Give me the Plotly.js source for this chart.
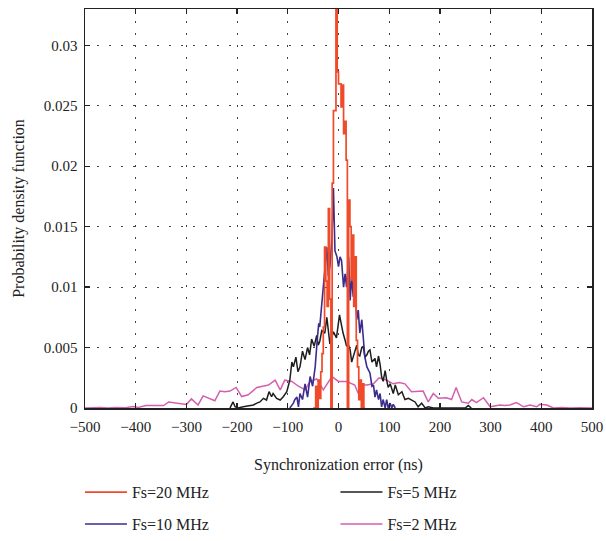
<!DOCTYPE html>
<html>
<head>
<meta charset="utf-8">
<script src="https://cdn.plot.ly/plotly-3.0.1.min.js"></script>
<style>html,body{margin:0;padding:0;background:#fff;}#chart{width:606px;height:541px;}</style>
</head>
<body>
<div id="chart"></div>
<script>
// Fs = 20 MHz
const redX = [-50,-47.5,-45,-42.5,-40,-37.5,-35,-32.5,-30,-27.5,-25,-22.5,-20,-17.5,-15,-12.5,-10,-7.5,-5,-2.5,0,2.5,5,7.5,10,12.5,15,17.5,20,22.5,25,27.5,30,32.5,35,37.5,40,42.5,45,47.5,50,52.5];
const redY = [0,0,0.0018,0,0.0023,0.0008,0.003,0.0045,0.0067,0.0133,0.0105,0.0084,0.0165,0.009,0,0.0186,0.0246,0.0246,0.036,0.0278,0.0268,0.0268,0.0249,0.0267,0.0227,0.0237,0.0205,0,0.0172,0.015,0.0106,0.0143,0.0084,0.0125,0.0056,0.0034,0.0007,0.0023,0,0.002,0,0];
// Fs = 10 MHz
const blueX = [-96,-89,-86,-82,-79,-76,-71,-66,-61,-56,-51,-46,-42,-39,-37,-33,-27,-23,-20,-17,-13,-10,-7,-3,0,3,6,10,13,16,20,23,26,29,33,36,39,42,46,49,52,56,62,66,69,72,75,79,82,85,88,92,95,98,102,105,108,112];
const blueY = [0,0.0004,0.0007,0.0009,0.0001,0.0012,0.0007,0.002,0.0009,0.0026,0.0018,0.0034,0.0056,0.007,0.0067,0.0087,0.0117,0.0133,0.0109,0.0117,0.0139,0.0182,0.013,0.0125,0.0117,0.0125,0.0122,0.01,0.0111,0.01,0.0125,0.0089,0.0109,0.0092,0.0098,0.0073,0.0081,0.0062,0.0073,0.0056,0.0042,0.0034,0.0029,0.0018,0.0019,0.0009,0.0015,0.0007,0.0012,0.0001,0.0007,0,0.0007,0,0.0004,0,0.0003,0];
// Fs = 5 MHz
const blackX = [-214,-208,-204,-198,-188,-178,-168,-161,-155,-148,-142,-137,-132,-129,-122,-115,-109,-102,-99,-96,-92,-89,-84,-80,-76,-71,-66,-61,-57,-53,-48,-43,-40,-37,-33,-27,-23,-17,-10,-4,2,6,9,13,16,19,23,26,29,32,36,39,42,46,49,52,56,59,62,66,69,72,75,79,82,85,88,92,95,98,102,105,108,112,118,125,131,138,144,151,157,164,171,177,187,197,210,230,250,256,262];
const blackY = [0,0.0005,0.0001,0,0.0001,0.00017,0.00025,0.0004,0.0005,0.0008,0.00066,0.00135,0.00093,0.0012,0.0008,0.00066,0.00093,0.00135,0.00176,0.0023,0.0038,0.0034,0.0042,0.003,0.0034,0.0047,0.004,0.005,0.0044,0.0057,0.0051,0.006,0.0052,0.0055,0.0064,0.0062,0.0075,0.0053,0.0063,0.0058,0.0077,0.0067,0.0062,0.0056,0.0051,0.0053,0.0048,0.0038,0.0042,0.0048,0.0052,0.0044,0.0043,0.005,0.0051,0.0042,0.0044,0.0047,0.0048,0.0038,0.004,0.0041,0.0034,0.0043,0.0036,0.0026,0.0022,0.0031,0.0023,0.0017,0.002,0.0015,0.0012,0.0019,0.0011,0.00135,0.0007,0.0008,0.00066,0.0005,0.0001,0.0004,0,0.0001,0,0,0,0,0,0.0002,0];
// Fs = 2 MHz
const pinkX = [-500,-488,-470,-455,-440,-420,-405,-395,-380,-360,-345,-335,-320,-300,-290,-277,-267,-255,-244,-234,-224,-214,-202,-191,-178,-161,-138,-125,-115,-106,-92,-79,-66,-56,-43,-30,-13,0,16,32,39,49,56,69,80,95,108,120,131,144,157,167,177,187,197,213,223,232,243,256,263,272,286,299,305,318,328,338,351,365,378,391,397,411,424,440,457,476,500];
const pinkY = [0,0.00003,0.00005,0,0.00005,0.00003,0.00012,0.00005,0.0002,0.0002,0.0002,0.0005,0.0004,0.0003,0.00075,0.00025,0.001,0.0008,0.0006,0.0014,0.00135,0.0014,0.0017,0.00095,0.0011,0.0017,0.0019,0.0023,0.0015,0.0023,0.0022,0.0018,0.0015,0.0022,0.0024,0.0015,0.0026,0.0022,0.0022,0.0019,0.0012,0.0019,0.0019,0.002,0.0025,0.0023,0.002,0.0021,0.002,0.00135,0.0014,0.0014,0.0005,0.0012,0.0008,0.00085,0.0007,0.0017,0.0005,0.0004,0.0007,0.00045,0.00085,0.0001,0.00015,0.00025,0.0002,0.00025,0.00045,0.0001,0.00025,0.0001,0.0003,0.00025,0,0.00005,0,0.00003,0];

const xTicks = [-500,-400,-300,-200,-100,0,100,200,300,400,500];
const yTicks = [0,0.005,0.01,0.015,0.02,0.025,0.03];
const yTickText = ['0','0.005','0.01','0.015','0.02','0.025','0.03'];

const FONT = 'Liberation Serif, Times New Roman, serif';

const traces = [
  {x: pinkX, y: pinkY, mode: 'lines', name: 'Fs=2 MHz', line: {color: '#d45fae', width: 1.5}, legend: 'legend4'},
  {x: blackX, y: blackY, mode: 'lines', name: 'Fs=5 MHz', line: {color: '#1e1e1e', width: 1.5}, legend: 'legend3'},
  {x: blueX, y: blueY, mode: 'lines', name: 'Fs=10 MHz', line: {color: '#3a2d8e', width: 1.6}, legend: 'legend2'},
  {x: redX, y: redY, mode: 'lines', name: 'Fs=20 MHz', line: {color: '#ef4a2a', width: 1.7, shape: 'hv'}, legend: 'legend'}
];

const legBase = {orientation: 'h', xanchor: 'left', yanchor: 'middle', itemwidth: 42, bgcolor: 'rgba(0,0,0,0)', font: {family: FONT, size: 16, color: '#222'}};
const row1 = -0.211, row2 = -0.291, col1 = -0.01, col2 = 0.494;

const layout = {
  width: 606, height: 541,
  margin: {l: 85, r: 14, t: 9, b: 133, autoexpand: false},
  paper_bgcolor: '#fff', plot_bgcolor: '#fff',
  font: {family: FONT, size: 15, color: '#222'},
  showlegend: true,
  legend: Object.assign({}, legBase, {x: col1, y: row1}),
  legend2: Object.assign({}, legBase, {x: col1, y: row2}),
  legend3: Object.assign({}, legBase, {x: col2, y: row1}),
  legend4: Object.assign({}, legBase, {x: col2, y: row2}),
  xaxis: {
    range: [-500, 500], tickvals: xTicks, ticks: 'inside', ticklen: 5, tickwidth: 1.3, tickcolor: '#222',
    showline: true, linecolor: '#222', linewidth: 1.5, mirror: 'ticks',
    showgrid: true, gridcolor: '#444', gridwidth: 1, griddash: '1.5px,10.5px', zeroline: false,
    ticklabelstandoff: 4,
    tickfont: {family: FONT, size: 15, color: '#222'},
    title: {text: 'Synchronization error (ns)', font: {family: FONT, size: 16, color: '#222'}, standoff: 25}
  },
  yaxis: {
    range: [0, 0.033], tickvals: yTicks, ticktext: yTickText, ticks: 'inside', ticklen: 5, tickwidth: 1.3, tickcolor: '#222',
    showline: true, linecolor: '#222', linewidth: 1.5, mirror: 'ticks',
    showgrid: true, gridcolor: '#444', gridwidth: 1, griddash: '1.5px,10.5px', zeroline: false,
    ticklabelstandoff: 3,
    tickfont: {family: FONT, size: 15, color: '#222'},
    title: {text: 'Probability density function', font: {family: FONT, size: 16, color: '#222'}, standoff: 15}
  }
};

Plotly.newPlot('chart', traces, layout, {displayModeBar: false, staticPlot: true});
</script>
</body>
</html>
